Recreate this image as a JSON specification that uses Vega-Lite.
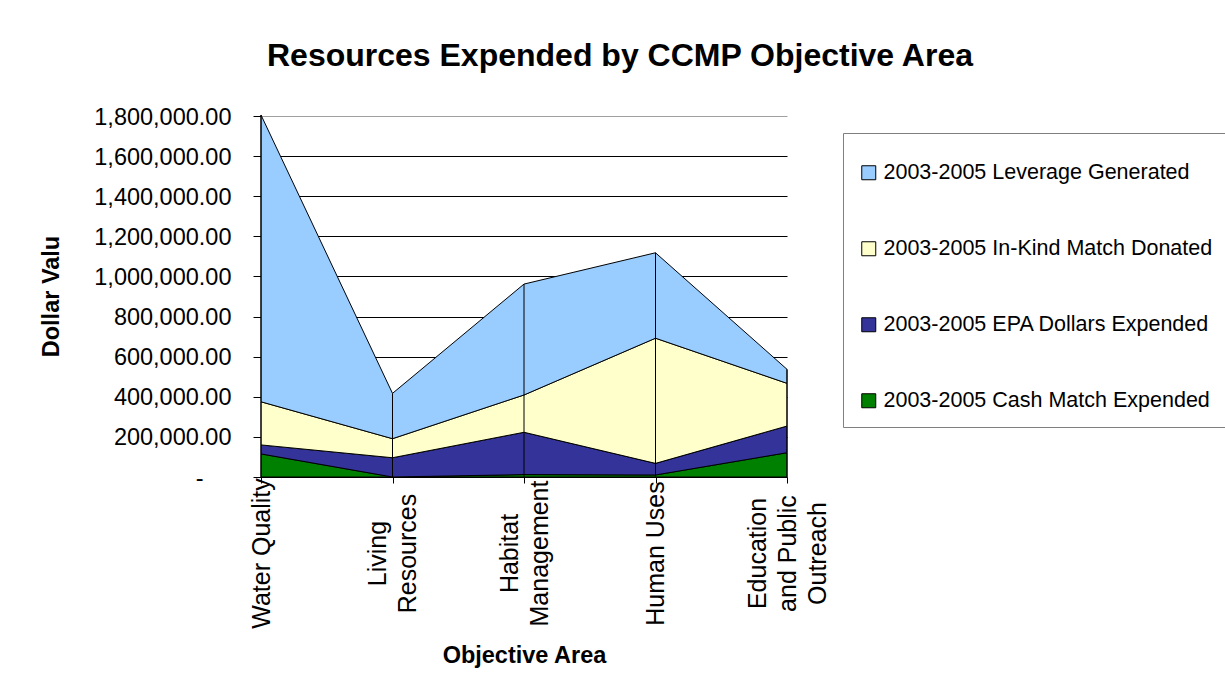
{
  "$schema": "https://vega.github.io/schema/vega-lite/v6.json",
  "width": 526,
  "height": 361,
  "autosize": {"type": "none"},
  "padding": {"left": 261, "top": 116, "right": 438, "bottom": 221},
  "background": "white",
  "title": {
    "text": "Resources Expended by CCMP Objective Area",
    "font": "Liberation Sans",
    "fontSize": 32,
    "fontWeight": "bold",
    "color": "black",
    "anchor": "middle",
    "frame": "group",
    "dx": 96,
    "offset": 32
  },
  "config": {
    "view": {"stroke": null},
    "font": "Liberation Sans"
  },
  "data": {
    "values": [
      {"area": "Water Quality", "series": "2003-2005 Cash Match Expended", "value": 115000},
      {"area": "Living Resources", "series": "2003-2005 Cash Match Expended", "value": 0},
      {"area": "Habitat Management", "series": "2003-2005 Cash Match Expended", "value": 12000},
      {"area": "Human Uses", "series": "2003-2005 Cash Match Expended", "value": 10000},
      {"area": "Education and Public Outreach", "series": "2003-2005 Cash Match Expended", "value": 121000},
      {"area": "Water Quality", "series": "2003-2005 EPA Dollars Expended", "value": 45000},
      {"area": "Living Resources", "series": "2003-2005 EPA Dollars Expended", "value": 96000},
      {"area": "Habitat Management", "series": "2003-2005 EPA Dollars Expended", "value": 211000},
      {"area": "Human Uses", "series": "2003-2005 EPA Dollars Expended", "value": 58000},
      {"area": "Education and Public Outreach", "series": "2003-2005 EPA Dollars Expended", "value": 133000},
      {"area": "Water Quality", "series": "2003-2005 In-Kind Match Donated", "value": 215000},
      {"area": "Living Resources", "series": "2003-2005 In-Kind Match Donated", "value": 95000},
      {"area": "Habitat Management", "series": "2003-2005 In-Kind Match Donated", "value": 186000},
      {"area": "Human Uses", "series": "2003-2005 In-Kind Match Donated", "value": 624000},
      {"area": "Education and Public Outreach", "series": "2003-2005 In-Kind Match Donated", "value": 213000},
      {"area": "Water Quality", "series": "2003-2005 Leverage Generated", "value": 1430000},
      {"area": "Living Resources", "series": "2003-2005 Leverage Generated", "value": 226000},
      {"area": "Habitat Management", "series": "2003-2005 Leverage Generated", "value": 553000},
      {"area": "Human Uses", "series": "2003-2005 Leverage Generated", "value": 426000},
      {"area": "Education and Public Outreach", "series": "2003-2005 Leverage Generated", "value": 70000}
    ]
  },
  "transform": [
    {"calculate": "indexof(['2003-2005 Cash Match Expended', '2003-2005 EPA Dollars Expended', '2003-2005 In-Kind Match Donated', '2003-2005 Leverage Generated'], datum.series)", "as": "stackRank"}
  ],
  "encoding": {
    "x": {
      "field": "area",
      "type": "ordinal",
      "sort": ["Water Quality", "Living Resources", "Habitat Management", "Human Uses", "Education and Public Outreach"],
      "scale": {"type": "point", "padding": 0},
      "axis": {
        "title": "Objective Area",
        "titleFontSize": 23.5,
        "titleFontWeight": "bold",
        "titleColor": "black",
        "titleY": 178,
        "titleBaseline": "middle",
        "labelAngle": 270,
        "labelAlign": "center",
        "labelBaseline": "middle",
        "labelPadding": 70,
        "labelFontSize": 25,
        "labelColor": "black",
        "labelLineHeight": 30,
        "labelLimit": 0,
        "labelOverlap": false,
        "labelOffset": {
          "condition": [
            {"test": "datum.value == 'Education and Public Outreach'", "value": -30},
            {"test": "datum.value == 'Living Resources' || datum.value == 'Habitat Management'", "value": -15}
          ],
          "value": 0
        },
        "labelExpr": "datum.value == 'Living Resources' ? ['Living', 'Resources'] : datum.value == 'Habitat Management' ? ['Habitat', 'Management'] : datum.value == 'Education and Public Outreach' ? ['Education', 'and Public', 'Outreach'] : datum.label",
        "tickSize": 6,
        "tickColor": "black",
        "domainColor": "black",
        "grid": false
      }
    }
  },
  "layer": [
    {
      "mark": {"type": "area", "stroke": "black", "strokeWidth": 1, "opacity": 1},
      "encoding": {
        "y": {
          "field": "value",
          "type": "quantitative",
          "stack": "zero",
          "title": "Dollar Valu",
          "scale": {"domain": [0, 1800000], "nice": false},
          "axis": {
            "values": [0, 200000, 400000, 600000, 800000, 1000000, 1200000, 1400000, 1600000, 1800000],
            "labelExpr": "datum.value == 0 ? '-' : format(datum.value, ',.2f')",
            "labelFontSize": 23.5,
            "labelColor": "black",
            "labelPadding": {"condition": {"test": "datum.value === 0", "value": 50}, "value": 22},
            "labelOffset": 1,
            "labelFlush": false,
            "labelOverlap": false,
            "tickSize": 8,
            "tickColor": "black",
            "domainColor": "black",
            "grid": true,
            "gridColor": {"condition": {"test": "datum.value === 1800000", "value": "#a0a0a0"}, "value": "black"},
            "gridWidth": 1,
            "titleFontSize": 23.5,
            "titleFontWeight": "bold",
            "titleColor": "black",
            "titleX": -210,
            "titleY": 180,
            "titleAngle": 270,
            "titleAlign": "center",
            "titleBaseline": "middle"
          }
        },
        "color": {
          "field": "series",
          "type": "nominal",
          "scale": {
            "domain": ["2003-2005 Leverage Generated", "2003-2005 In-Kind Match Donated", "2003-2005 EPA Dollars Expended", "2003-2005 Cash Match Expended"],
            "range": ["#99CCFF", "#FFFFCC", "#333399", "#008000"]
          },
          "legend": {
            "orient": "none",
            "legendX": 582,
            "legendY": 17,
            "title": " ",
            "titleFontSize": 14,
            "titlePadding": 0,
            "padding": 15,
            "strokeColor": "#808080",
            "fillColor": "white",
            "symbolType": "square",
            "symbolSize": 196,
            "symbolStrokeColor": "black",
            "symbolStrokeWidth": 1,
            "symbolOpacity": 1,
            "labelFontSize": 21.5,
            "labelColor": "black",
            "labelOffset": 4,
            "rowPadding": 53,
            "labelLimit": 500
          }
        },
        "order": {"field": "stackRank", "type": "quantitative"}
      }
    },
    {
      "mark": {"type": "rule", "color": "black", "strokeWidth": 1},
      "encoding": {
        "y": {"aggregate": "sum", "field": "value", "type": "quantitative", "title": "Dollar Valu"},
        "y2": {"datum": 0}
      }
    }
  ]
}
